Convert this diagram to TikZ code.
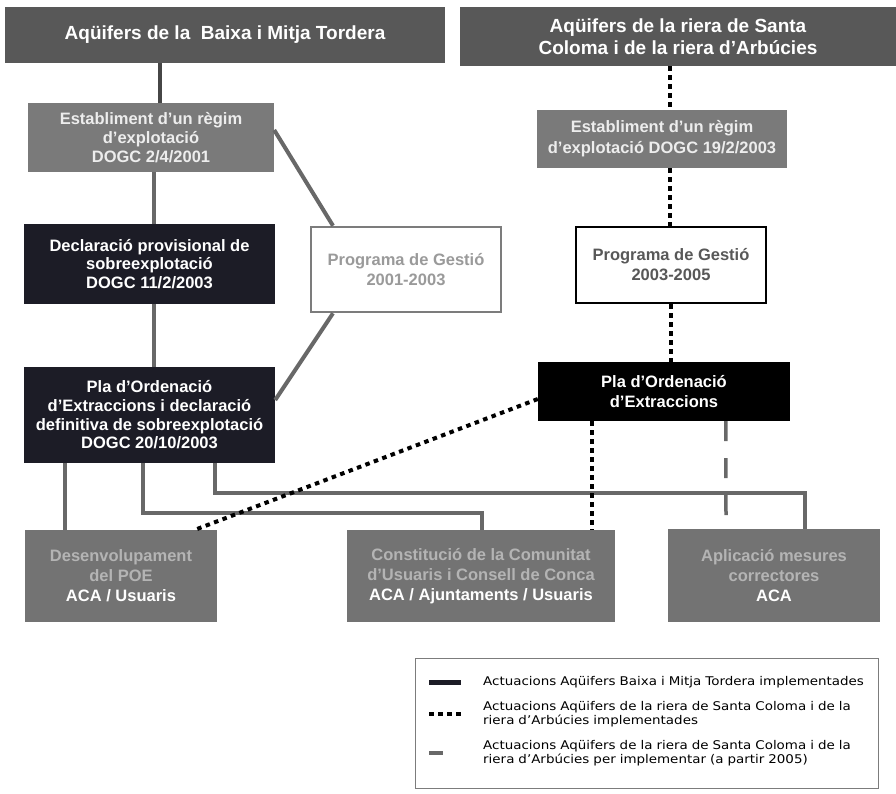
\documentclass[tikz,border=0pt]{standalone}
\usepackage{fontspec}
\setmainfont{Liberation Sans}
\newfontfamily\legendfont[FakeStretch=1.12]{DejaVu Sans}
\definecolor{headgray}{HTML}{585858}
\definecolor{estgray}{HTML}{7A7A7A}
\definecolor{esttext}{HTML}{EDEDED}
\definecolor{darkbox}{HTML}{1C1C26}
\definecolor{proggray}{HTML}{7C7C7C}
\definecolor{progtext}{HTML}{9A9A9A}
\definecolor{actgray}{HTML}{737373}
\definecolor{acttext}{HTML}{B4B4B4}
\definecolor{linegray}{HTML}{686868}
\definecolor{topline}{HTML}{464646}
\tikzset{
  box/.style={inner sep=0pt, align=center, font=\bfseries\fontsize{16.5}{18.7}\selectfont},
  headbox/.style={box, fill=headgray, text=white, font=\bfseries\fontsize{19}{22}\selectfont},
  estbox/.style={box, fill=estgray, text=esttext},
  decbox/.style={box, fill=darkbox, text=white},
  progbox/.style={box, fill=white, draw=proggray, line width=2.5pt, text=progtext, font=\bfseries\fontsize{16.5}{20}\selectfont},
  actbox/.style={box, fill=actgray, text=acttext, font=\bfseries\fontsize{16.5}{20}\selectfont},
  legtext/.style={anchor=west, inner sep=0pt, text width=400pt, font=\legendfont\fontsize{12}{13.6}\selectfont},
  solidline/.style={draw=linegray, line width=4pt},
  dotline/.style={draw=black, line width=4pt, dash pattern=on 4.5pt off 4.5pt},
  dashline/.style={draw=linegray, line width=3.5pt, dash pattern=on 20pt off 17pt},
}

\begin{document}
\begin{tikzpicture}[x=1pt, y=-1pt]
    \useasboundingbox (0,0) rectangle (896,793);
    % left column
    \node[headbox, minimum width=440pt, minimum height=56pt] (headL) at (225,35) {Aqüifers de la\ \ Baixa i Mitja Tordera};
    \node[estbox, minimum width=246pt, minimum height=69pt] (estL) at (151,137.5) {Establiment d’un règim\\d’explotació\\DOGC 2/4/2001};
    \node[decbox, minimum width=251pt, minimum height=80pt] (decL) at (149.5,264) {Declaració provisional de\\sobreexplotació\\DOGC 11/2/2003};
    \node[decbox, minimum width=251pt, minimum height=96pt] (plaL) at (149.5,415) {Pla d’Ordenació\\d’Extraccions i declaració\\definitiva de sobreexplotació\\DOGC 20/10/2003};
    \node[progbox, minimum width=190pt, minimum height=85pt] (progL) at (406,269.5) {Programa de Gestió\\2001-2003};
    % right column
    \node[headbox, minimum width=436pt, minimum height=59pt] (headR) at (678,36.5) {Aqüifers de la riera de Santa\\Coloma i de la riera d’Arbúcies};
    \node[estbox, minimum width=250pt, minimum height=58pt, font=\bfseries\fontsize{16.5}{21}\selectfont] (estR) at (662,139) {Establiment d’un règim\\d’explotació DOGC 19/2/2003};
    \node[progbox, draw=black, text=headgray, minimum width=190pt, minimum height=76pt] (progR) at (671,265) {Programa de Gestió\\2003-2005};
    \node[box, fill=black, text=white, minimum width=252pt, minimum height=59pt, font=\bfseries\fontsize{16.5}{20}\selectfont] (plaR) at (664,391.5) {Pla d’Ordenació\\d’Extraccions};
    % actions
    \node[actbox, minimum width=192pt, minimum height=92pt] (desB) at (121,576) {Desenvolupament\\del POE\\\textcolor{white}{ACA / Usuaris}};
    \node[actbox, minimum width=268pt, minimum height=92pt] (conB) at (481,576) {Constitució de la Comunitat\\d’Usuaris i Consell de Conca\\\textcolor{white}{ACA / Ajuntaments / Usuaris}};
    \node[actbox, minimum width=212pt, minimum height=93pt] (apliB) at (774,575.5) {Aplicació mesures\\correctores\\\textcolor{white}{ACA}};
    % connectors left
    \draw[solidline, draw=topline] ([xshift=-65pt]headL.south) -- ([xshift=-65pt]headL.south |- estL.north);
    \draw[solidline] ([xshift=3pt]estL.south) -- ([xshift=3pt]estL.south |- decL.north);
    \draw[solidline] ([xshift=4.5pt]decL.south) -- ([xshift=4.5pt]decL.south |- plaL.north);
    \draw[solidline] ([yshift=7.5pt]estL.east) -- ([xshift=-73pt]progL.north);
    \draw[solidline] ([xshift=-73pt]progL.south) -- ([yshift=15pt]plaL.east);
    \draw[solidline] ([xshift=41pt]plaL.south west) -- ([xshift=41pt]plaL.south west |- desB.north);
    \draw[solidline] ([xshift=119pt]plaL.south west) |- ([xshift=1pt, yshift=17pt]conB.north) -- ([xshift=1pt]conB.north);
    \draw[solidline] ([xshift=191pt]plaL.south west) |- ([xshift=31pt, yshift=36pt]apliB.north) -- ([xshift=31pt]apliB.north);
    % connectors right
    \draw[dotline] ([xshift=-8pt]headR.south) -- ([xshift=-8pt]headR.south |- estR.north);
    \draw[dotline] ([xshift=8pt]estR.south) -- ([xshift=8pt]estR.south |- progR.north);
    \draw[dotline] (progR.south) -- (progR.south |- plaR.north);
    \draw[dotline] ([yshift=-7.5pt]plaR.west) -- ([xshift=74pt]desB.north);
    \draw[dotline] ([xshift=54pt]plaR.south west) -- ([xshift=54pt]plaR.south west |- conB.north);
    \coordinate (dashend) at ([xshift=-48pt, yshift=12pt]apliB.north);
    \draw[dashline] ([xshift=188pt]plaR.south west) -- (dashend);
    % legend
    \node[draw=proggray, line width=0.8pt, minimum width=463pt, minimum height=130pt] (legend) at (646.5,723) {};
    \node[legtext] (legA) at (483,682) {Actuacions Aqüifers Baixa i Mitja Tordera implementades};
    \node[legtext] (legB) at (483,714) {Actuacions Aqüifers de la riera de Santa Coloma i de la\\riera d’Arbúcies implementades};
    \node[legtext] (legC) at (483,753) {Actuacions Aqüifers de la riera de Santa Coloma i de la\\riera d’Arbúcies per implementar (a partir 2005)};
    \coordinate (symA) at ([xshift=-22pt]legA.west);
    \coordinate (symB) at ([xshift=-22pt]legB.west);
    \coordinate (symC) at ([xshift=-22pt]legC.west);
    \draw[draw=darkbox, line width=5pt] ([xshift=-32pt]symA) -- (symA);
    \draw[dotline] ([xshift=-32pt]symB) -- (symB);
    \draw[dashline, dash pattern=on 14pt off 20pt] ([xshift=-32pt]symC) -- (symC);
\end{tikzpicture}
\end{document}
